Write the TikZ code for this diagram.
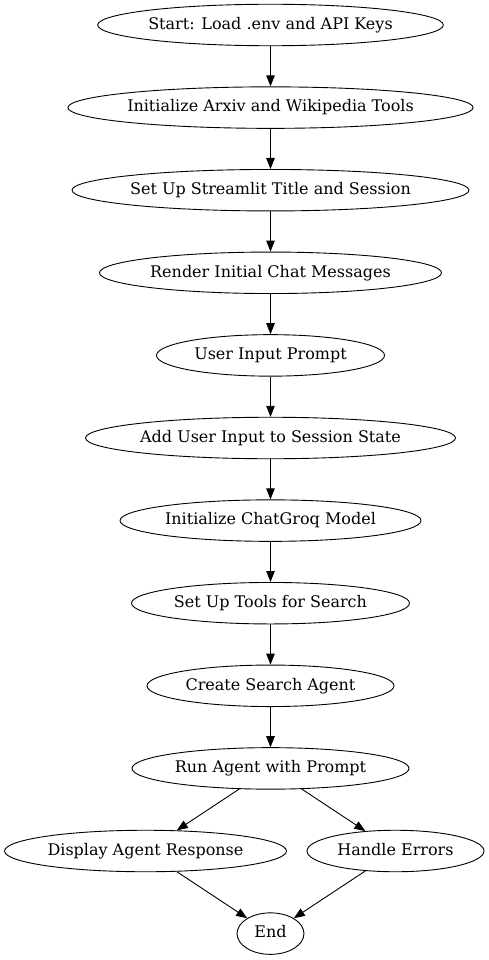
\documentclass[tikz,border=0pt]{standalone}
\usepackage{fontspec}
\setmainfont{DejaVu Serif}
\usetikzlibrary{shapes.geometric, arrows.meta}
\tikzset{
  flow node/.style={
    ellipse,
    draw,
    line width=0.9pt,
    inner xsep=0pt,
    inner ysep=0pt,
    minimum height=41.5pt,
    text height=12pt,
    text depth=3.5pt,
    align=center,
    font=\fontsize{16}{18}\selectfont,
  },
  flow arrow/.style={
    line width=0.9pt,
    -{Triangle[length=11pt, width=8.5pt]},
  },
}

\begin{document}
\begin{tikzpicture}[x=1pt, y=-1pt]
      \useasboundingbox (0,0) rectangle (489,960);
      \node[flow node, minimum width=344pt] (1) at (270.5,25) {Start: Load .env and API Keys};
      \node[flow node, minimum width=401pt] (2) at (270.5,107.6) {Initialize Arxiv and Wikipedia Tools};
      \node[flow node, minimum width=397pt] (3) at (270.5,190.2) {Set Up Streamlit Title and Session};
      \node[flow node, minimum width=342pt] (4) at (270.5,272.8) {Render Initial Chat Messages};
      \node[flow node, minimum width=228pt] (5) at (270.5,355.4) {User Input Prompt};
      \node[flow node, minimum width=370pt] (6) at (270.5,438) {Add User Input to Session State};
      \node[flow node, minimum width=301pt] (7) at (270.5,520.6) {Initialize ChatGroq Model};
      \node[flow node, minimum width=278pt] (8) at (270.5,603.2) {Set Up Tools for Search};
      \node[flow node, minimum width=247pt] (9) at (270.5,685.8) {Create Search Agent};
      \node[flow node, minimum width=277pt] (10) at (270.5,768.4) {Run Agent with Prompt};
      \node[flow node, minimum width=282pt] (11) at (145.5,851) {Display Agent Response};
      \node[flow node, minimum width=177pt] (12) at (395.5,851) {Handle Errors};
      \node[flow node, minimum width=67pt] (13) at (270.5,933.6) {End};

      \foreach \a/\b in {1/2, 2/3, 3/4, 4/5, 5/6, 6/7, 7/8, 8/9, 9/10, 10/11, 10/12, 11/13, 12/13}
        \draw[flow arrow] (\a) -- (\b);
    \end{tikzpicture}
\end{document}
